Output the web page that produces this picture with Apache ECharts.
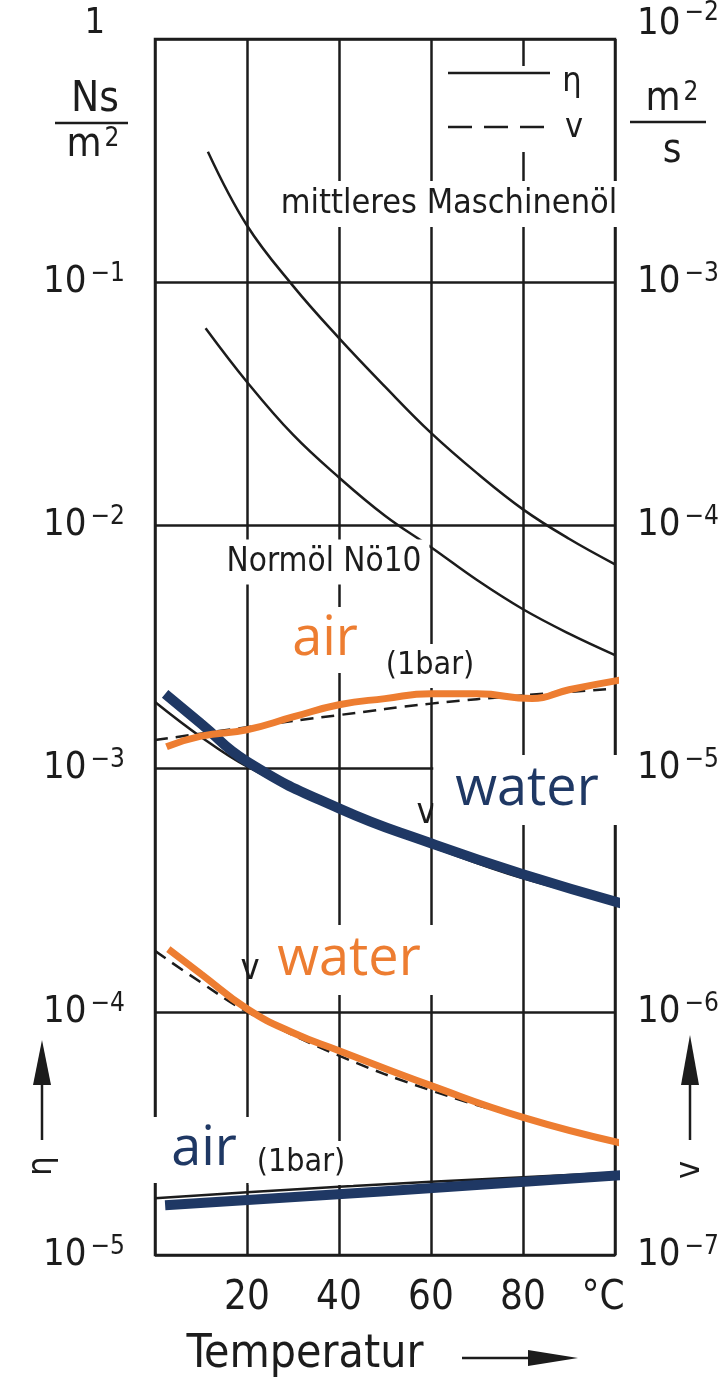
<!DOCTYPE html>
<html>
<head>
<meta charset="utf-8">
<script src="https://cdn.jsdelivr.net/npm/echarts@6/dist/echarts.min.js"></script>
<style>
  html, body { margin: 0; padding: 0; background: #fff; }
  #chart { width: 725px; height: 1377px; }
</style>
</head>
<body>
<div id="chart"></div>
<script>
// ticks
const xTicks = [0, 20, 40, 60, 80, 100]
const xTickText = ['', '20', '40', '60', '80', '°C']
const leftExponents = [0, -1, -2, -3, -4, -5]   // eta, Ns/m2
const rightExponents = [-2, -3, -4, -5, -6, -7] // nu, m2/s

// mittleres Maschinenöl (eta)
const oilMachineT = [11.5, 20, 30, 40, 50, 60, 70, 80, 90, 100]
const oilMachineEta = [0.344, 0.171, 0.0966, 0.0589, 0.0372, 0.024, 0.0164, 0.01164, 0.00881, 0.00692]
// Normöl Nö10 (eta)
const oilNormT = [11, 20, 30, 40, 50, 60, 70, 80, 90, 100]
const oilNormEta = [0.0647, 0.0389, 0.0236, 0.01574, 0.01096, 0.00813, 0.00596, 0.00452, 0.00359, 0.00293]
// water (scan, black)
const waterT = [0, 10, 20, 40, 60, 80, 100]
const waterEta = [1.88e-3, 1.35e-3, 1.02e-3, 6.67e-4, 4.79e-4, 3.54e-4, 2.85e-4]
const waterNu = [1.78e-6, 1.32e-6, 1.0e-6, 6.6e-7, 4.75e-7, 3.65e-7, 2.9e-7]
// air 1 bar (scan, black)
const airT = [0, 20, 40, 60, 80, 100]
const airEta = [1.71e-5, 1.81e-5, 1.91e-5, 2.0e-5, 2.09e-5, 2.18e-5]
const airNu = [1.31e-5, 1.48e-5, 1.66e-5, 1.85e-5, 2.0e-5, 2.13e-5]

// hand drawn overlays
const navyWaterT = [2.2, 10, 20, 40, 60, 80, 105]
const navyWaterEta = [2.03e-3, 1.53e-3, 1.07e-3, 6.86e-4, 4.93e-4, 3.68e-4, 2.67e-4]
const navyAirT = [2.2, 50, 101.7]
const navyAirEta = [1.60e-5, 1.83e-5, 2.13e-5]
const orangeAirT = [2.5, 10, 20, 30, 40, 50, 60, 70, 82, 90, 101.5]
const orangeAirNu = [1.23e-5, 1.36e-5, 1.445e-5, 1.63e-5, 1.83e-5, 1.94e-5, 2.03e-5, 2.03e-5, 1.94e-5, 2.11e-5, 2.32e-5]
const orangeWaterT = [2.9, 10, 20, 30, 40, 60, 80, 101.5]
const orangeWaterNu = [1.81e-6, 1.43e-6, 1.03e-6, 8.2e-7, 6.92e-7, 4.97e-7, 3.68e-7, 2.88e-7]

const NAVY = '#1F3864'
const ORANGE = '#ED7D31'
const INK = '#1c1c1c'
const SCAN_FONT = "'DejaVu Sans Condensed', 'DejaVu Sans', sans-serif"
const OVER_FONT = "'Open Sans', 'Noto Sans', sans-serif"

const zip = (xs, ys) => xs.map((x, i) => [x, ys[i]])

function expLabel(exps, top) {
  return v => {
    const e = Math.round(Math.log10(v))
    if (!exps.includes(e)) return ''
    if (e === 0) return '{one|1}'
    const st = e === top ? 't' : ''
    return '{b' + st + '|10}{s' + st + '|\u2212' + (-e) + '}'
  }
}

const supRich = {
  b: { fontSize: 38, fontFamily: SCAN_FONT, color: INK },
  s: { fontSize: 26, fontFamily: SCAN_FONT, color: INK, verticalAlign: 'top', padding: [0, 0, 16, 4] },
  bt: { fontSize: 38, fontFamily: SCAN_FONT, color: INK, padding: [0, 0, 30, 0] },
  st: { fontSize: 26, fontFamily: SCAN_FONT, color: INK, padding: [0, 0, 52, 4] },
  one: { fontSize: 36, fontFamily: SCAN_FONT, color: INK, padding: [0, 20, 30, 0] }
}

function scanLine(name, data, axis, dashed) {
  return {
    name, type: 'line', yAxisIndex: axis, data, smooth: 0.4, symbol: 'none', z: 2,
    lineStyle: { color: INK, width: 2.5, type: dashed ? [13, 8] : 'solid' }
  }
}
function overlay(name, data, axis, color, width) {
  return {
    name, type: 'line', yAxisIndex: axis, data, smooth: true, symbol: 'none', z: 3, clip: false,
    lineStyle: { color, width, cap: 'butt' }
  }
}

function label(text, x, y, size, color, font, bg, extra) {
  return Object.assign({
    type: 'text', x, y, z: 100,
    style: {
      text, fill: color, fontSize: size, fontFamily: font, align: 'center', verticalAlign: 'middle',
      backgroundColor: bg || null, padding: bg ? [6, 8] : 0
    }
  }, extra || {})
}

const chart = echarts.init(document.getElementById('chart'))

chart.setOption({
  backgroundColor: '#fff',
  animation: false,
  grid: { left: 155, right: 110, top: 35, bottom: 122, show: true, borderColor: INK, borderWidth: 2.5, backgroundColor: '#fff' },
  xAxis: {
    type: 'value', min: xTicks[0], max: xTicks[xTicks.length - 1], interval: 20,
    axisLine: { show: false }, axisTick: { show: false },
    splitLine: { show: true, lineStyle: { color: INK, width: 2.5 } },
    axisLabel: {
      margin: 24,
      formatter: v => {
        const t = xTickText[xTicks.indexOf(v)] || ''
        return t === '°C' ? '{c|°C}' : t
      },
      color: INK, fontSize: 40, fontFamily: SCAN_FONT,
      rich: { c: { fontSize: 40, fontFamily: SCAN_FONT, color: INK, padding: [0, 24, 0, 0] } }
    }
  },
  yAxis: [{
    type: 'log', logBase: 10,
    min: Math.pow(10, leftExponents[leftExponents.length - 1]), max: Math.pow(10, leftExponents[0]),
    axisLine: { show: false }, axisTick: { show: false },
    splitLine: { show: true, lineStyle: { color: INK, width: 2.5 } },
    axisLabel: { margin: 30, formatter: expLabel(leftExponents, 1), rich: supRich }
  }, {
    type: 'log', logBase: 10, position: 'right',
    min: Math.pow(10, rightExponents[rightExponents.length - 1]), max: Math.pow(10, rightExponents[0]),
    axisLine: { show: false }, axisTick: { show: false }, splitLine: { show: false },
    axisLabel: { margin: 22, formatter: expLabel(rightExponents, rightExponents[0]), rich: supRich }
  }],
  series: [
    scanLine('mittleres Maschinenöl', zip(oilMachineT, oilMachineEta), 0, false),
    scanLine('Normöl Nö10', zip(oilNormT, oilNormEta), 0, false),
    scanLine('Wasser η', zip(waterT, waterEta), 0, false),
    scanLine('Wasser ν', zip(waterT, waterNu), 1, true),
    scanLine('Luft η', zip(airT, airEta), 0, false),
    scanLine('Luft ν', zip(airT, airNu), 1, true),
    overlay('water η', zip(navyWaterT, navyWaterEta), 0, NAVY, 10),
    overlay('air η', zip(navyAirT, navyAirEta), 0, NAVY, 10),
    overlay('air ν', zip(orangeAirT, orangeAirNu), 1, ORANGE, 7),
    overlay('water ν', zip(orangeWaterT, orangeWaterNu), 1, ORANGE, 7)
  ],
  graphic: [
    // units
    label('Ns', 95, 100, 42, INK, SCAN_FONT),
    { type: 'line', z: 100, shape: { x1: 55, y1: 123, x2: 128, y2: 123 }, style: { stroke: INK, lineWidth: 2.5 } },
    { type: 'text', z: 100, x: 93, y: 146, style: { text: '{a|m}{b|2}', align: 'center', verticalAlign: 'middle',
      rich: { a: { fontSize: 40, fontFamily: SCAN_FONT, fill: INK }, b: { fontSize: 26, fontFamily: SCAN_FONT, fill: INK, verticalAlign: 'top', padding: [0, 0, 14, 3] } } } },
    { type: 'text', z: 100, x: 672, y: 100, style: { text: '{a|m}{b|2}', align: 'center', verticalAlign: 'middle',
      rich: { a: { fontSize: 40, fontFamily: SCAN_FONT, fill: INK }, b: { fontSize: 26, fontFamily: SCAN_FONT, fill: INK, verticalAlign: 'top', padding: [0, 0, 14, 3] } } } },
    { type: 'line', z: 100, shape: { x1: 630, y1: 122, x2: 706, y2: 122 }, style: { stroke: INK, lineWidth: 2.5 } },
    label('s', 672, 152, 40, INK, SCAN_FONT),
    // legend box
    { type: 'rect', z: 90, shape: { x: 442, y: 66, width: 148, height: 86 }, style: { fill: '#fff' } },
    { type: 'line', z: 100, shape: { x1: 448, y1: 73, x2: 550, y2: 73 }, style: { stroke: INK, lineWidth: 2.5 } },
    { type: 'line', z: 100, shape: { x1: 448, y1: 127, x2: 550, y2: 127 }, style: { stroke: INK, lineWidth: 2.5, lineDash: [24, 12] } },
    label('η', 572, 82, 34, INK, SCAN_FONT),
    label('v', 574, 128, 34, INK, SCAN_FONT),
    // curve names from the scan
    label('mittleres Maschinenöl', 449, 204, 34, INK, SCAN_FONT, '#fff'),
    label('Normöl Nö10', 324, 562, 33, INK, SCAN_FONT, '#fff'),
    label('(1bar)', 430, 666, 32, INK, SCAN_FONT, '#fff'),
    label('(1bar)', 301, 1163, 32, INK, SCAN_FONT, '#fff'),
    label('v', 250, 970, 36, INK, SCAN_FONT),
    label('v', 426, 814, 36, INK, SCAN_FONT),
    // overlay names
    label('air', 325, 640, 54, ORANGE, OVER_FONT, '#fff'),
    label('water', 527, 790, 54, NAVY, OVER_FONT, '#fff', { style: { text: 'water', fill: NAVY, fontSize: 54, fontFamily: OVER_FONT, align: 'center', verticalAlign: 'middle', backgroundColor: '#fff', padding: [8, 22] } }),
    label('water', 349, 960, 54, ORANGE, OVER_FONT, '#fff', { style: { text: 'water', fill: ORANGE, fontSize: 54, fontFamily: OVER_FONT, align: 'center', verticalAlign: 'middle', backgroundColor: '#fff', padding: [8, 16] } }),
    label('air', 198, 1150, 54, NAVY, OVER_FONT, '#fff', { style: { text: 'air', fill: NAVY, fontSize: 54, fontFamily: OVER_FONT, align: 'center', verticalAlign: 'middle', backgroundColor: '#fff', padding: [6, 18, 6, 30] } }),
    // axis arrows
    { type: 'polygon', z: 100, shape: { points: [[42, 1040], [33, 1085], [51, 1085]] }, style: { fill: INK } },
    { type: 'line', z: 100, shape: { x1: 42, y1: 1080, x2: 42, y2: 1140 }, style: { stroke: INK, lineWidth: 2.5 } },
    label('η', 42, 1166, 34, INK, SCAN_FONT, null, { rotation: Math.PI / 2 }),
    { type: 'polygon', z: 100, shape: { points: [[690, 1035], [681, 1085], [699, 1085]] }, style: { fill: INK } },
    { type: 'line', z: 100, shape: { x1: 690, y1: 1080, x2: 690, y2: 1140 }, style: { stroke: INK, lineWidth: 2.5 } },
    label('v', 690, 1170, 34, INK, SCAN_FONT, null, { rotation: Math.PI / 2 }),
    // x title
    label('Temperatur', 305, 1355, 46, INK, SCAN_FONT),
    { type: 'line', z: 100, shape: { x1: 462, y1: 1358, x2: 535, y2: 1358 }, style: { stroke: INK, lineWidth: 2.5 } },
    { type: 'polygon', z: 100, shape: { points: [[528, 1350], [578, 1358], [528, 1366]] }, style: { fill: INK } }
  ]
})
</script>
</body>
</html>
